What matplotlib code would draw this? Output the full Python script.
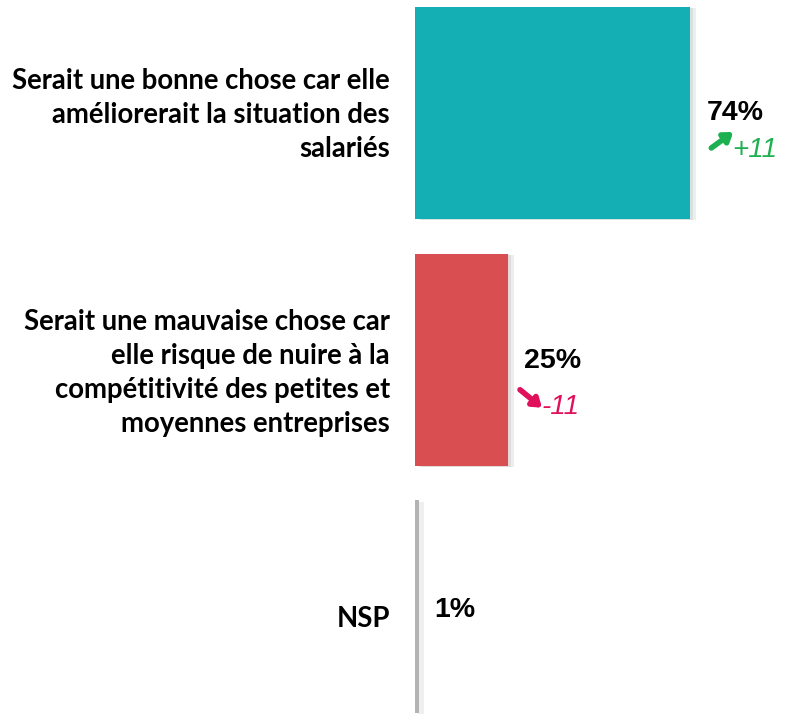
import matplotlib
matplotlib.use("Agg")
from matplotlib import pyplot as plt
from matplotlib import patheffects as pe
from matplotlib import transforms as mtrans

labels = ["Serait une bonne chose car elle\naméliorerait la situation des\nsalariés",
          "Serait une mauvaise chose car\nelle risque de nuire à la\ncompétitivité des petites et\nmoyennes entreprises",
          "NSP"]
values = [74, 25, 1]
changes = ["+11", "-11", None]
colors = ["#14AFB5", "#D94E50", "#B3B3B3"]
change_colors = {"+": "#1DB050", "-": "#E0105A"}

fig = plt.figure(figsize=(7.85, 7.15), dpi=100)
ax = fig.add_axes([415/785, 0, 370/785, 1])
ax.set_xlim(0, 370/3.72)
ax.set_ylim(2.44, -0.458)
ax.axis("off")

ys = range(len(values))
bars = ax.barh(ys, values, height=0.86, color=colors)
for b in bars:
    b.set_path_effects([pe.SimplePatchShadow(offset=(4, -1), alpha=0.08),
                        pe.SimplePatchShadow(offset=(2, -1), alpha=0.08), pe.Normal()])

def off(dx, dy):
    # shift data coords by pixels (dy positive = down)
    return mtrans.offset_copy(ax.transData, fig, x=dx, y=-dy, units="dots")

# category labels on the left
label_dy = [2, 13, 13]
for y, lab, dy in zip(ys, labels, label_dy):
    ax.annotate(lab, xy=(0, y), xycoords=("axes fraction", "data"),
                xytext=(-25, -dy), textcoords="offset pixels",
                ha="right", va="center", fontsize=19.8, fontweight="bold",
                family="Lato", linespacing=1.38)

# value labels and changes
value_dy = [0, 1, 4]
for y, v, ch, vdy in zip(ys, values, changes, value_dy):
    ax.annotate(f"{v}%", xy=(v, y), xytext=(16, -vdy), textcoords="offset pixels",
                ha="left", va="center", fontsize=20.5, fontweight="bold",
                family="Liberation Sans")
    if ch is None:
        continue
    c = change_colors[ch[0]]
    if ch[0] == "+":
        tdx, tdy, tail, head = 42, 37, (21, 35), (43, 19)
    else:
        tdx, tdy, tail, head = 34, 47, (12, 30), (34, 48)
    ax.annotate(ch, xy=(v, y), xytext=(tdx, -tdy), textcoords="offset pixels",
                ha="left", va="center", fontsize=20, style="italic",
                color=c, family="Liberation Sans")
    ax.annotate("", xy=(v, y), xycoords=off(*head),
                xytext=(v, y), textcoords=off(*tail),
                arrowprops=dict(arrowstyle="-|>,head_length=0.5,head_width=0.35",
                                color=c, lw=4, shrinkA=0, shrinkB=0))

fig.savefig("out.png", dpi=100)
